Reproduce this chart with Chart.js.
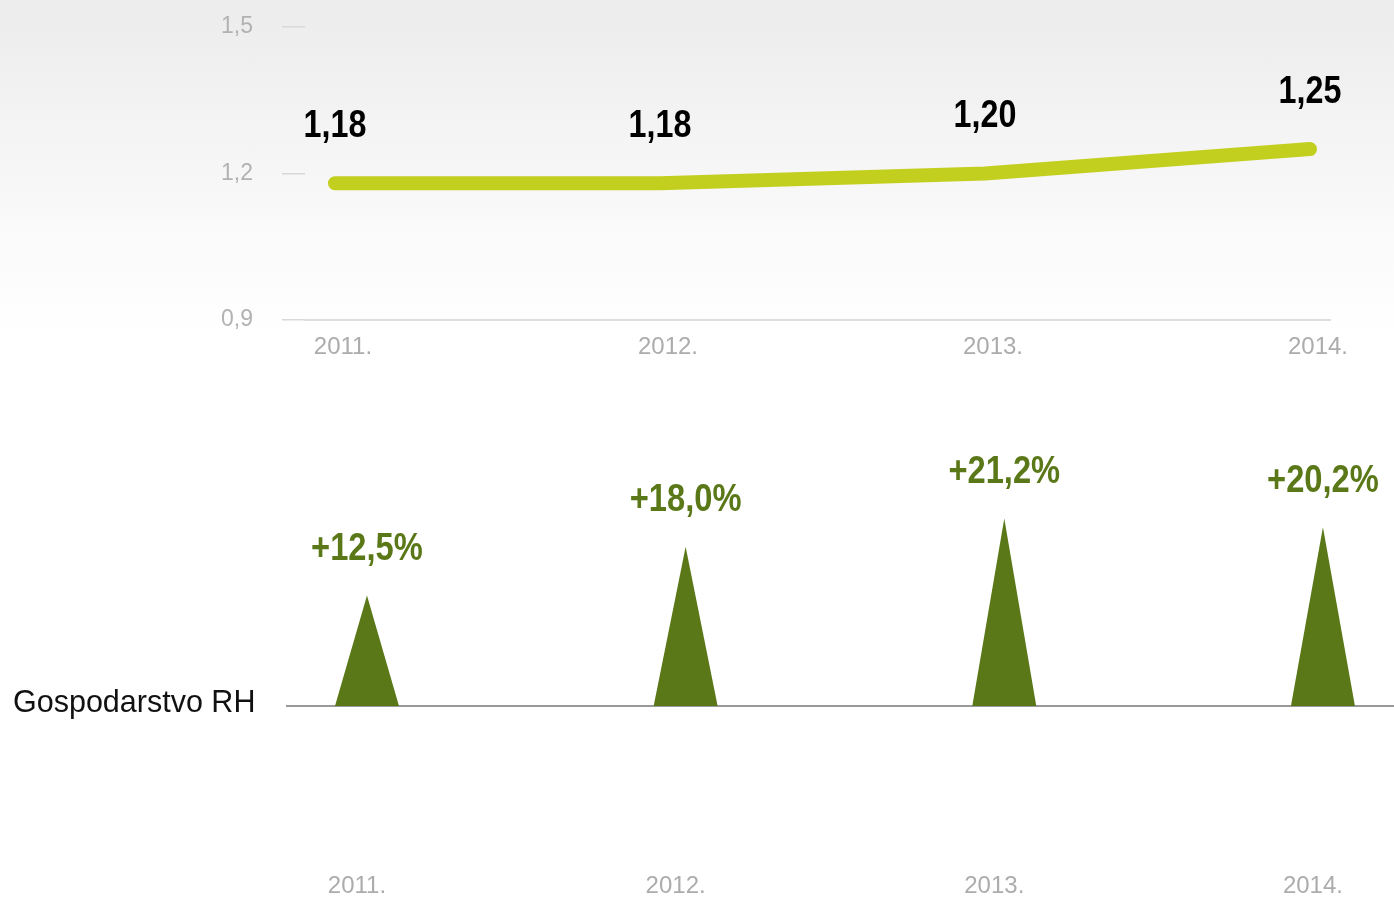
<!DOCTYPE html>
<html>
<head>
<meta charset="utf-8">
<script src="https://cdn.jsdelivr.net/npm/chart.js@4.4.1/dist/chart.umd.min.js"></script>
<style>
  html, body { margin: 0; padding: 0; }
  body {
    width: 1394px; height: 898px; position: relative; overflow: hidden;
    background: linear-gradient(to bottom, #ececec 0px, #fbfbfb 250px, #ffffff 340px, #ffffff 898px);
    font-family: "Liberation Sans", Arial, sans-serif;
  }
  #topChart { position: absolute; left: 0; top: 0; }
  #bottomChart { position: absolute; left: 0; top: 370px; }
  .rowLabel { position: absolute; left: 13px; top: 684px; font-size: 30.5px; color: #111; }
</style>
</head>
<body>
<canvas id="topChart" width="1394" height="370"></canvas>
<canvas id="bottomChart" width="1394" height="528"></canvas>
<div class="rowLabel">Gospodarstvo RH</div>
<script>
const years = ['2011.', '2012.', '2013.', '2014.'];
const ratio = [1.18, 1.18, 1.20, 1.25];
const ratioTicks = [0.9, 1.2, 1.5];
const growth = [12.5, 18.0, 21.2, 20.2];

const lineColor = '#c3cf1f';
const green = '#5a7817';
const labelFont = '"Liberation Sans", Arial, sans-serif';

function comma(v, d) {
  return v.toFixed(d).replace('.', ',');
}

function noPadding(s) {
  s.paddingTop = 0;
  s.paddingBottom = 0;
  s.paddingLeft = 0;
  s.paddingRight = 0;
}

// text above each point / bar, squeezed to look condensed
const valueLabels = {
  id: 'valueLabels',
  afterDatasetsDraw(chart, args, opts) {
    const ctx = chart.ctx;
    const meta = chart.getDatasetMeta(0);
    meta.data.forEach((el, i) => {
      ctx.save();
      ctx.font = 'bold ' + opts.size + 'px ' + labelFont;
      ctx.fillStyle = opts.color;
      ctx.textAlign = 'center';
      ctx.textBaseline = 'middle';
      ctx.translate(el.x, el.y - opts.dy);
      ctx.scale(opts.squeeze, 1);
      ctx.fillText(opts.format(opts.values[i]), 0, 0);
      ctx.restore();
    });
  }
};

// bars are drawn as triangles
const triangles = {
  id: 'triangles',
  afterDatasetsDraw(chart) {
    const ctx = chart.ctx;
    const meta = chart.getDatasetMeta(0);
    ctx.save();
    ctx.fillStyle = green;
    meta.data.forEach(el => {
      const half = el.width / 2;
      ctx.beginPath();
      ctx.moveTo(el.x - half, el.base);
      ctx.lineTo(el.x, el.y);
      ctx.lineTo(el.x + half, el.base);
      ctx.closePath();
      ctx.fill();
    });
    ctx.restore();
  }
};

new Chart(document.getElementById('topChart'), {
  type: 'line',
  data: {
    datasets: [{
      data: ratio.map((v, i) => ({ x: i, y: v })),
      borderColor: lineColor,
      borderWidth: 14,
      borderCapStyle: 'round',
      borderJoinStyle: 'round',
      pointRadius: 0,
      tension: 0,
      clip: false
    }]
  },
  options: {
    responsive: false,
    animation: false,
    layout: { padding: { left: 0, right: 64, top: 27, bottom: 0 } },
    scales: {
      x: {
        type: 'linear',
        min: -0.0923,
        max: 3.0615,
        afterBuildTicks: s => { s.ticks = years.map((y, i) => ({ value: i })); },
        afterFit: s => { s.height = 50; noPadding(s); },
        grid: { display: false, drawTicks: false },
        border: { color: '#dedede', width: 2 },
        ticks: {
          callback: v => years[v],
          color: '#acacac',
          font: { size: 24, family: labelFont },
          padding: 13,
          labelOffset: 8,
          maxRotation: 0
        }
      },
      y: {
        min: 0.9,
        max: 1.5,
        afterBuildTicks: s => { s.ticks = ratioTicks.map(v => ({ value: v })); },
        afterFit: s => { s.width = 305; noPadding(s); },
        grid: { drawOnChartArea: false, drawTicks: true, tickLength: 23, color: '#d8d8d8', lineWidth: 1.5 },
        border: { display: false },
        ticks: {
          callback: v => comma(v, 1),
          color: '#b2b2b2',
          font: { size: 23, family: labelFont },
          padding: 29
        }
      }
    },
    plugins: {
      legend: { display: false },
      tooltip: { enabled: false },
      valueLabels: { values: ratio, format: v => comma(v, 2), color: '#000', size: 38, dy: 57, squeeze: 0.85 }
    }
  },
  plugins: [valueLabels]
});

new Chart(document.getElementById('bottomChart'), {
  type: 'bar',
  data: {
    datasets: [{
      data: growth.map((v, i) => ({ x: i, y: v })),
      backgroundColor: 'rgba(0,0,0,0)',
      barThickness: 64
    }]
  },
  options: {
    responsive: false,
    animation: false,
    layout: { padding: { left: 287, right: 0, top: 70.5, bottom: 0 } },
    scales: {
      x: {
        type: 'linear',
        offset: false,
        min: -0.251,
        max: 3.223,
        afterBuildTicks: s => { s.ticks = years.map((y, i) => ({ value: i })); },
        afterFit: s => { s.height = 192; noPadding(s); },
        grid: { display: false, drawTicks: false, offset: false },
        border: { color: '#999999', width: 2 },
        ticks: {
          callback: v => years[v],
          color: '#acacac',
          font: { size: 24, family: labelFont },
          padding: 166,
          labelOffset: -10,
          maxRotation: 0
        }
      },
      y: {
        display: false,
        min: 0,
        max: 30
      }
    },
    plugins: {
      legend: { display: false },
      tooltip: { enabled: false },
      valueLabels: { values: growth, format: v => '+' + comma(v, 1) + '%', color: green, size: 38, dy: 46, squeeze: 0.86 }
    }
  },
  plugins: [triangles, valueLabels]
});
</script>
</body>
</html>
